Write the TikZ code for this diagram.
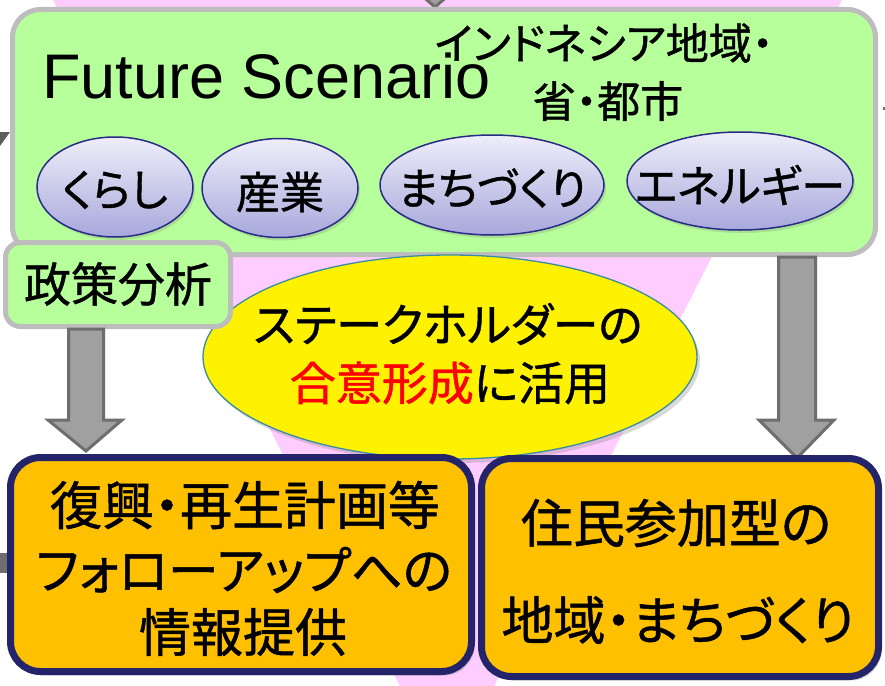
\documentclass[tikz,border=0pt]{standalone}
\usepackage{fontspec}
\setmainfont{Liberation Sans}
\newfontfamily\jp[RawFeature=+palt,FakeBold=1]{Noto Sans CJK JP}
\usetikzlibrary{shapes.geometric,shadows}
\definecolor{pinkbg}{HTML}{FFCCFF}
\definecolor{lgreen}{HTML}{B6FF9A}
\definecolor{boxgrey}{HTML}{BDBDBD}
\definecolor{lavtop}{HTML}{EEEEFA}
\definecolor{lavbot}{HTML}{A8A8DC}
\definecolor{navyline}{HTML}{2A2A88}
\definecolor{tealline}{HTML}{3A8CA0}
\definecolor{arrfill}{HTML}{A0A0A0}
\definecolor{arrline}{HTML}{6E6E6E}
\definecolor{orangefill}{HTML}{FFC000}
\definecolor{navyborder}{HTML}{24246B}
\definecolor{stubgrey}{HTML}{5E5E5E}
\tikzset{
  greenbox/.style={draw=boxgrey, line width=5pt, fill=lgreen, rectangle, inner sep=0pt},
  topic/.style={ellipse, draw=navyline, line width=1.5pt, top color=lavtop, bottom color=lavbot,
    inner sep=0pt,
    drop shadow={opacity=0.25, shadow xshift=2pt, shadow yshift=-3pt}},
  jptext/.style={inner sep=0pt, font=\jp\fontsize{#1}{#1}\selectfont},
  blockarrow/.style={draw=arrline, line width=3pt, fill=arrfill, line join=miter},
  orangebox/.style={rectangle, draw=navyborder, line width=7pt, fill=orangefill, rounded corners=30pt,
    inner sep=0pt, drop shadow={opacity=0.3, shadow xshift=3pt, shadow yshift=-4pt}},
}
\begin{document}
\begin{tikzpicture}[x=1pt,y=-1pt]
\useasboundingbox (0,0) rectangle (885,685);
% pink funnel background
\fill[pinkbg] (52,-2) -- (843,-2) -- (447,779) -- cycle;
% partial elements at the edges
\fill[stubgrey] (0,132) -- (10,132) -- (0,146) -- cycle;
\fill[arrline] (0,553) rectangle (7,573);
\fill[arrline] (882.5,107) rectangle (885,110);
\draw[blockarrow] (420,-6) -- (450,-6) -- (435,7) -- cycle;
% main scenario box
\node[greenbox, rounded corners=28pt, minimum width=863pt, minimum height=245pt] (scen) at (444,132) {};
\node[anchor=base west, inner sep=0pt, font=\fontsize{63}{63}\selectfont] (title) at (42,98) {Future Scenario};
\node[jptext=43] (region1) at (604,43) {インドネシア地域・};
\node[jptext=43] (region2) at (608,101) {省・都市};
% topic ellipses
\node[topic, minimum width=156pt, minimum height=100pt] (kurashi) at (115,187) {};
\node[jptext=44] (kurashitxt) at (115,190) {くらし};
\node[topic, minimum width=156pt, minimum height=99pt] (sangyo) at (280,188) {};
\node[jptext=44] (sangyotxt) at (280,192) {産業};
\node[topic, minimum width=224pt, minimum height=100pt] (machi) at (492,185) {};
\node[jptext=44] (machitxt) at (492,188) {まちづくり};
\node[topic, minimum width=226pt, minimum height=98pt] (energy) at (740,181) {};
\node[jptext=44] (energytxt) at (740,185) {エネルギー};
% stakeholder ellipse
\node[ellipse, draw=tealline, line width=1.3pt, fill=yellow, minimum width=494pt, minimum height=204pt,
  drop shadow={opacity=0.3, shadow xshift=3pt, shadow yshift=-4pt}] (stake) at (450,357) {};
\node[jptext=46] (stake1) at (448,324) {ステークホルダーの};
\node[jptext=46] (stake2) at (450,383) {\textcolor{red}{合意形成}に活用};
% policy analysis box
\node[greenbox, rounded corners=15pt, minimum width=225pt, minimum height=84pt] (policy) at (118,284.5) {};
\node[jptext=47] (policytxt) at (118,284) {政策分析};
% block arrows
\draw[blockarrow] (68.5,329) -- (103.5,329) -- (103.5,420) -- (122,420) -- (86,451) -- (48,420) -- (68.5,420) -- cycle;
\draw[blockarrow] (778.5,257) -- (815.5,257) -- (815.5,420) -- (834,420) -- (797,458) -- (759,420) -- (778.5,420) -- cycle;
% output boxes
\node[orangebox, minimum width=461pt, minimum height=214pt] (plan) at (241,564.5) {};
\node[jptext=52] (plan1) at (245,505) {復興・再生計画等};
\node[jptext=51] (plan2) at (244,570) {フォローアップへの};
\node[jptext=52] (plan3) at (243,632) {情報提供};
\node[orangebox, minimum width=397pt, minimum height=218pt] (local) at (680,567.5) {};
\node[jptext=52] (local1) at (676,523) {住民参加型の};
\node[jptext=52] (local2) at (678,620) {地域・まちづくり};
\end{tikzpicture}
\end{document}
